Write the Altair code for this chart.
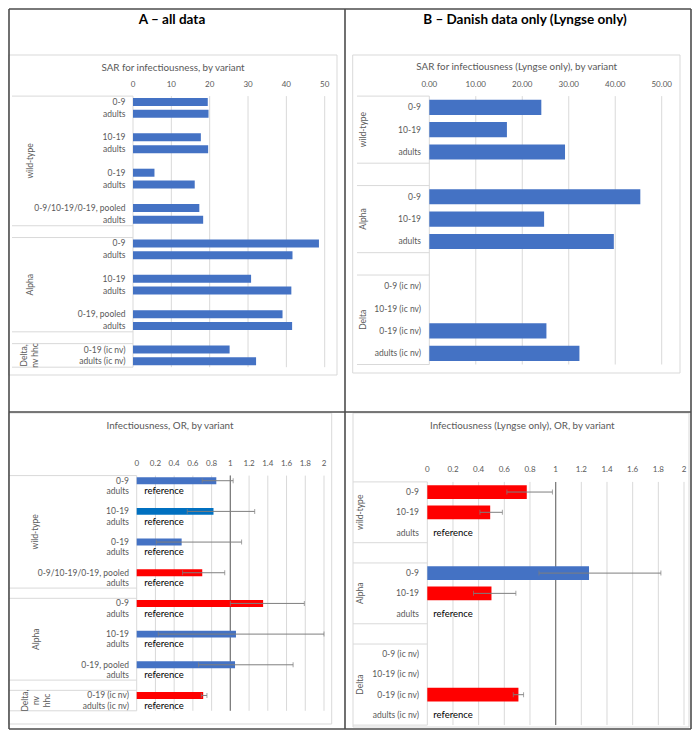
import altair as alt
import pandas as pd

# ---------------- data ----------------
# A (top): SAR for infectiousness, by variant
a_sar_labels = ["0-9", "adults", "", "10-19", "adults", "", "0-19", "adults", "",
                "0-9/10-19/0-19, pooled", "adults", "",
                "0-9", "adults", "", "10-19", "adults", "", "0-19, pooled", "adults", "",
                "0-19 (ic nv)", "adults (ic nv)"]
a_sar_values = [19.5, 19.7, None, 17.7, 19.6, None, 5.6, 16.1, None, 17.3, 18.3, None,
                48.5, 41.6, None, 30.8, 41.3, None, 39.0, 41.5, None, 25.2, 32.1]
a_groups = ["wild-type", "Alpha", "Delta,\nnv hhc"]
a_group_start = [0, 12, 21]
a_group_end = [11, 20, 23]
sar_ticks = [0, 10, 20, 30, 40, 50]

# B (top): SAR for infectiousness (Lyngse only)
b_sar_labels = ["0-9", "10-19", "adults", "", "0-9", "10-19", "adults", "",
                "0-9 (ic nv)", "10-19 (ic nv)", "0-19 (ic nv)", "adults (ic nv)"]
b_sar_values = [24.1, 16.7, 29.2, None, 45.4, 24.7, 39.7, None, None, None, 25.2, 32.3]
b_groups = ["wild-type", "Alpha", "Delta"]
b_group_start = [0, 4, 8]
b_group_end = [3, 7, 12]

# A (bottom): Infectiousness OR
a_or_values = [0.85, None, None, 0.82, None, None, 0.48, None, None, 0.70, None, None,
               1.35, None, None, 1.06, None, None, 1.05, None, None, 0.71, None]
a_or_low = [0.70, None, None, 0.54, None, None, 0.21, None, None, 0.49, None, None,
            1.00, None, None, 0.23, None, None, 0.66, None, None, 0.69, None]
a_or_high = [1.03, None, None, 1.26, None, None, 1.12, None, None, 0.94, None, None,
             1.79, None, None, 2.00, None, None, 1.67, None, None, 0.75, None]
a_or_colors = ["#4472C4", "", "", "#0070C0", "", "", "#4472C4", "", "", "#FF0000", "", "",
               "#FF0000", "", "", "#4472C4", "", "", "#4472C4", "", "", "#FF0000", ""]
a_or_notes = ["", "reference", "", "", "reference", "", "", "reference", "", "", "reference", "",
              "", "reference", "", "", "reference", "", "", "reference", "", "", "reference"]
a_or_groups = ["wild-type", "Alpha", "Delta,\nnv\nhhc"]

# B (bottom): Infectiousness (Lyngse only) OR
b_or_values = [0.775, 0.49, None, None, 1.26, 0.50, None, None, None, None, 0.71, None]
b_or_low = [0.62, 0.41, None, None, 0.87, 0.36, None, None, None, None, 0.67, None]
b_or_high = [0.975, 0.585, None, None, 1.82, 0.69, None, None, None, None, 0.75, None]
b_or_colors = ["#FF0000", "#FF0000", "", "", "#4472C4", "#FF0000", "", "", "", "", "#FF0000", ""]
b_or_notes = ["", "", "reference", "", "", "", "reference", "", "", "", "", "reference"]
or_ticks = [0, 0.2, 0.4, 0.6, 0.8, 1, 1.2, 1.4, 1.6, 1.8, 2]

# ---------------- styling / layout ----------------
OFFSET = 8
W, H = 684, 722
FONT = "Lato"
TXT = "#595959"
GRID = "#D9D9D9"
ERR = "#7F7F7F"
BLUE = "#4472C4"
FRAME = "#4D4D4D"


def px(v):
    return v - OFFSET


one = pd.DataFrame({"k": [0]})


def panel(key, labels, values, groups, gstart, gend, group_x, ticks, tick_format,
          x_left, x_right, dom_max, top, bottom, label_right, tick_y, sep_left,
          title, title_x, title_y, box, colors=None, low=None, high=None,
          notes=None, note_x=None, label_size=8.5, tick_size=8, ref_line=False):
    n = len(labels)
    ids = [f"{key}{i:02d}" for i in range(n)]
    df = pd.DataFrame({"id": ids, "label": labels, "v": values})
    xs = alt.Scale(domain=[0, dom_max], range=[px(x_left), px(x_right)], nice=False, zero=False)
    ys = alt.Scale(domain=ids, range=[px(top), px(bottom)], paddingInner=0.32, paddingOuter=0.16)
    rs = alt.Scale(domain=[0, n], range=[px(top), px(bottom)], nice=False, zero=False)

    def yb():
        return alt.Y("id:N", scale=ys, axis=None)

    layers = []
    layers.append(alt.Chart(one).mark_rect(fill="white", stroke=GRID, strokeWidth=1).encode(
        x=alt.value(px(box[0])), x2=alt.value(px(box[1])),
        y=alt.value(px(box[2])), y2=alt.value(min(px(box[3]), H - 3))))

    tdf = pd.DataFrame({"t": ticks})
    layers.append(alt.Chart(tdf).mark_rule(color=GRID, strokeWidth=1).encode(
        x=alt.X("t:Q", scale=xs, axis=None),
        y=alt.value(px(top)), y2=alt.value(px(bottom))))

    bounds = sorted(set(gstart + gend))
    sdf = pd.DataFrame({"b": bounds})
    layers.append(alt.Chart(sdf).mark_rule(color=GRID, strokeWidth=1).encode(
        y=alt.Y("b:Q", scale=rs, axis=None),
        x=alt.value(px(sep_left)), x2=alt.value(px(x_left))))

    if ref_line:
        layers.append(alt.Chart(one).mark_rule(color="#7F7F7F", strokeWidth=1.3).encode(
            x=alt.XDatum(1, type="quantitative", scale=xs, axis=None),
            y=alt.value(px(top)), y2=alt.value(px(bottom))))

    bdf = df.copy()
    if colors is not None:
        bdf["col"] = colors
    bdf = bdf.dropna(subset=["v"])
    layers.append(alt.Chart(bdf).mark_bar().encode(
        x=alt.X("v:Q", scale=xs, axis=None), x2=alt.X2Datum(0), y=yb(),
        color=alt.Color("col:N", scale=None) if colors is not None else alt.value(BLUE)))

    if low is not None:
        edf = pd.DataFrame({"id": ids, "lo": low, "hi": high}).dropna()
        layers.append(alt.Chart(edf).mark_rule(color=ERR, strokeWidth=1).encode(
            x=alt.X("lo:Q", scale=xs, axis=None), x2=alt.X2("hi:Q"), y=yb()))
        cdf = pd.DataFrame({"id": list(edf["id"]) * 2,
                            "c": list(edf["lo"]) + list(edf["hi"])})
        layers.append(alt.Chart(cdf).mark_tick(color=ERR, thickness=1, size=5).encode(
            x=alt.X("c:Q", scale=xs, axis=None), y=yb()))

    layers.append(alt.Chart(df).mark_text(align="right", baseline="middle", font=FONT,
                                          fontSize=label_size, color=TXT).encode(
        x=alt.value(px(label_right)), y=yb(), text="label:N"))

    if notes is not None:
        ndf = pd.DataFrame({"id": ids, "note": notes})
        ndf = ndf[ndf["note"] != ""]
        layers.append(alt.Chart(ndf).mark_text(align="left", baseline="middle", font=FONT,
                                               fontSize=9.5, color="black").encode(
            x=alt.value(px(note_x)), y=yb(), text="note:N"))

    layers.append(alt.Chart(tdf).mark_text(align="center", baseline="middle", font=FONT,
                                           fontSize=tick_size, color=TXT).encode(
        x=alt.X("t:Q", scale=xs, axis=None), y=alt.value(px(tick_y)),
        text=alt.Text("t:Q", format=tick_format)))

    for name, s, e, gx in zip(groups, gstart, gend, group_x):
        gdf = pd.DataFrame({"g": [name], "m": [(s + e) / 2]})
        layers.append(alt.Chart(gdf).mark_text(angle=270, align="center", baseline="middle",
                                               lineBreak="\n", lineHeight=11, font=FONT,
                                               fontSize=8.5, color=TXT).encode(
            x=alt.value(px(gx)), y=alt.Y("m:Q", scale=rs, axis=None), text="g:N"))

    layers.append(alt.Chart(one).mark_text(text=title, align="center", baseline="middle",
                                           font=FONT, fontSize=9.8, color=TXT).encode(
        x=alt.value(px(title_x)), y=alt.value(px(title_y))))
    return layers


layers = []

# outer frame and dividers
def hline(x1, x2, y):
    return alt.Chart(one).mark_rule(color=FRAME, strokeWidth=1.6).encode(
        x=alt.value(x1), x2=alt.value(x2), y=alt.value(y))


def vline(x, y1, y2):
    return alt.Chart(one).mark_rule(color=FRAME, strokeWidth=1.6).encode(
        x=alt.value(x), y=alt.value(y1), y2=alt.value(y2))


layers += panel("a", a_sar_labels, a_sar_values, a_groups, a_group_start, a_group_end,
                [30, 30, 23.5], sar_ticks, "d",
                133, 324.7, 50, 96.1, 367.2, 125.5, 85, 12,
                "SAR for infectiousness, by variant", 173, 68, (8.5, 337, 55, 375))
layers += panel("b", b_sar_labels, b_sar_values, b_groups, b_group_start, b_group_end,
                [363, 363, 363], sar_ticks, ".2f",
                429.3, 661.7, 50, 96.1, 364.5, 421, 85, 357,
                "SAR for infectiousness (Lyngse only), by variant", 516.7, 67,
                (352.7, 680, 55, 373))
layers += panel("c", a_sar_labels, a_or_values, a_or_groups, a_group_start, a_group_end,
                [35, 36, 25], or_ticks, "~g",
                136.7, 324, 2, 475.6, 710.8, 129, 464.3, 8.5,
                "Infectiousness, OR, by variant", 170, 425.7, (8.5, 331.7, 413, 724),
                colors=a_or_colors, low=a_or_low, high=a_or_high,
                notes=a_or_notes, note_x=144.3, ref_line=True)
layers += panel("d", b_sar_labels, b_or_values, b_groups, b_group_start, b_group_end,
                [360, 360, 360], or_ticks, "~g",
                427.3, 684, 2, 481.9, 725.1, 419, 470.3, 353,
                "Infectiousness (Lyngse only), OR, by variant", 522.3, 426.3,
                (353, 689, 413, 735),
                colors=b_or_colors, low=b_or_low, high=b_or_high,
                notes=b_or_notes, note_x=433.3, ref_line=True)

layers += [
    hline(1, W - 1, 1), hline(1, W - 1, H - 1), vline(1, 1, H - 1), vline(W - 1, 1, H - 1),
    vline(px(345), 1, H - 1), hline(1, W - 1, px(412)),
]

layers.append(alt.Chart(one).mark_text(text="A \u2013 all data", align="center", baseline="middle",
                                       font=FONT, fontSize=13.5, fontWeight="bold", color="black").encode(
    x=alt.value(px(172)), y=alt.value(12)))
layers.append(alt.Chart(one).mark_text(text="B \u2013 Danish data only (Lyngse only)", align="center",
                                       baseline="middle", font=FONT, fontSize=13.5, fontWeight="bold",
                                       color="black").encode(
    x=alt.value(px(525)), y=alt.value(12)))

chart = alt.layer(*layers).resolve_scale(
    x="independent", y="independent"
).properties(
    width=W, height=H, padding=0, autosize=alt.AutoSizeParams(type="none")
).configure_view(stroke=None)

chart.save("out.html", embed_options={"renderer": "svg", "actions": False})
